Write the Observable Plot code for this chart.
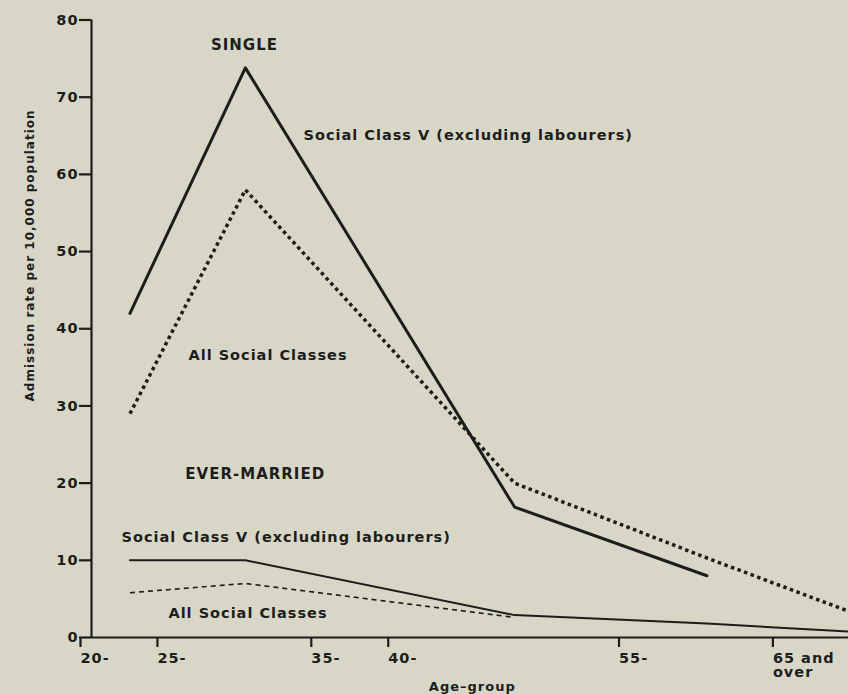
<!DOCTYPE html>
<html><head><meta charset="utf-8">
<script src="https://cdn.jsdelivr.net/npm/d3@7"></script>
<script src="https://cdn.jsdelivr.net/npm/@observablehq/plot@0.6"></script>
<style>
html,body{margin:0;padding:0;background:#d8d7c7;}
#chart svg{display:block;}
</style></head><body><div id="chart"></div>
<script>
// Age-group midpoints
const ages = [22.5, 30, 47.5, 60, 70];
// Single persons
const singleClassV = [42, 73.8, 16.9, 8];
const singleAll = [29, 58, 20, 10.3, 2.8];
// Ever-married persons
const marriedClassV = [10, 10, 2.9, 1.8, 0.7];
const marriedAll = [5.8, 7.0, 2.6];

const xTicks = [20, 25, 35, 40, 55, 65];
const xTickLabels = ["20-", "25-", "35-", "40-", "55-", "65 and\nover"];
const yTicks = [0, 10, 20, 30, 40, 50, 60, 70, 80];

const headings = [
  {text: "SINGLE", age: 29.94, rate: 76.7},
];
const groupHeadings = [
  {text: "EVER-MARRIED", age: 26.1, rate: 21.2}
];
const labels = [
  {text: "Social Class V (excluding labourers)", age: 33.78, rate: 65.0},
  {text: "All Social Classes", age: 26.3, rate: 36.5},
  {text: "Social Class V (excluding labourers)", age: 21.95, rate: 12.95},
  {text: "All Social Classes", age: 25.0, rate: 3.1}
];

const rows = vals => vals.map((v, i) => ({age: ages[i], rate: v}));
const ink = "#1d1d1b";

const chart = Plot.plot({
  width: 848,
  height: 694,
  marginLeft: 91,
  marginRight: 0,
  marginTop: 19.5,
  marginBottom: 57,
  style: {background: "#d8d7c7", color: ink, fontFamily: "DejaVu Sans", fontWeight: "bold", letterSpacing: "1px"},
  x: {domain: [20, 69.2]},
  y: {domain: [0, 80]},
  marks: [
    Plot.ruleY([0], {stroke: ink, strokeWidth: 2.2}),
    Plot.ruleX([20], {y1: 0, y2: 80, stroke: ink, strokeWidth: 2.2}),
    Plot.axisX({ticks: xTicks, tickFormat: d => xTickLabels[xTicks.indexOf(d)], tickSize: 10, tickPadding: 5,
      strokeWidth: 2.2, fontSize: 14.5, lineHeight: 1.0, textAnchor: "start", dx: -11, label: null}),
    Plot.axisY({ticks: yTicks, tickSize: 12, tickPadding: 1, strokeWidth: 2.2, fontSize: 14.5, label: null}),
    Plot.line(rows(singleClassV), {x: "age", y: "rate", stroke: ink, strokeWidth: 3, clip: true}),
    Plot.line(rows(singleAll), {x: "age", y: "rate", stroke: ink, strokeWidth: 3.5, strokeDasharray: "3.5,3.5", strokeLinecap: "butt", strokeLinejoin: "miter", clip: true}),
    Plot.line(rows(marriedClassV), {x: "age", y: "rate", stroke: ink, strokeWidth: 2, clip: true}),
    Plot.line(rows(marriedAll), {x: "age", y: "rate", stroke: ink, strokeWidth: 1.6, strokeDasharray: "5,4", strokeLinecap: "butt", clip: true}),
    Plot.text(headings, {x: "age", y: "rate", text: "text", textAnchor: "middle", fontSize: 15, fill: ink}),
    Plot.text(groupHeadings, {x: "age", y: "rate", text: "text", textAnchor: "start", fontSize: 15, fill: ink}),
    Plot.text(labels, {x: "age", y: "rate", text: "text", textAnchor: "start", fontSize: 14.5, fill: ink}),
    Plot.text(["Admission rate per 10,000 population"], {frameAnchor: "left", textAnchor: "middle", y: 49.5, dx: -61, rotate: -90, fontSize: 12, fill: ink}),
    Plot.text(["Age–group"], {x: 44.75, y: -6.35, fontSize: 13, fill: ink})
  ]
});
document.getElementById("chart").appendChild(chart);
</script>
</body></html>
